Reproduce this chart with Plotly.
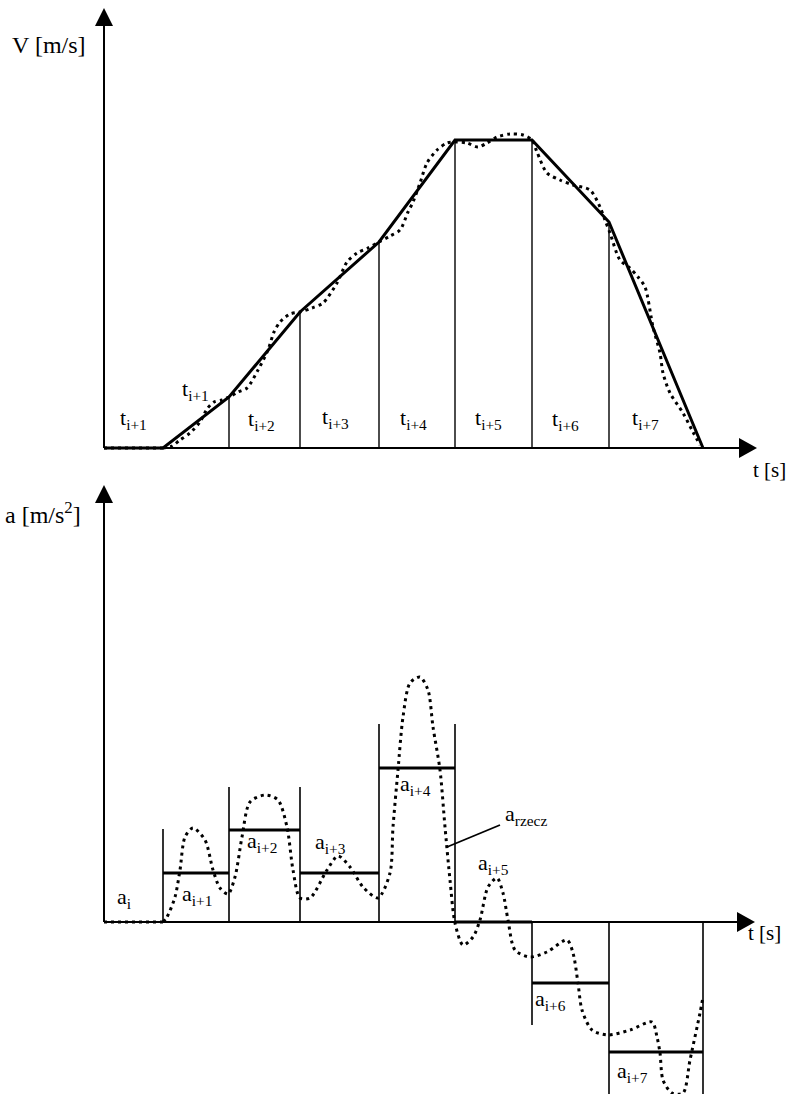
import plotly.graph_objects as go

# ---------------- data ----------------
# interval boundaries on the time axis (arbitrary units)
t_bounds = [0, 5.9, 12.5, 19.6, 27.5, 35.1, 42.8, 50.5, 59.9]
# piecewise-linear velocity at the boundaries
v_bounds = [0, 0, 5.1, 13.6, 20.6, 30.8, 30.8, 22.6, 0]
# real (measured) velocity - dotted curve
v_real_t = [5.9, 6.8, 7.6, 8.6, 9.6, 10.3, 11.0, 11.8, 12.5, 13.4, 14.3, 15.4, 16.4,
            17.0, 17.6, 18.6, 19.6, 20.8, 21.9, 23.3, 24.3, 25.3, 26.4, 27.5, 28.6,
            29.6, 30.4, 30.9, 31.6, 32.3, 33.3, 34.3, 35.1, 36.3, 37.4, 38.3, 39.3,
            40.6, 41.9, 42.8, 43.3, 44.3, 45.6, 46.9, 48.6, 49.6, 50.1, 50.6, 51.6,
            52.6, 53.4, 54.1, 54.9, 55.6, 55.9, 56.6, 57.9, 58.9, 59.6]
v_real = [0, 0.2, 0.8, 1.5, 2.6, 3.9, 4.6, 4.8, 5.1, 5.6, 6.0, 7.8, 9.8,
          11.6, 12.6, 13.4, 13.6, 14.0, 14.5, 16.5, 18.6, 19.5, 20.0, 20.6, 21.2,
          21.8, 23.6, 24.6, 26.5, 28.5, 29.8, 30.5, 30.6, 30.5, 30.1, 30.5, 31.1,
          31.4, 31.3, 30.8, 29.6, 27.5, 26.8, 26.3, 25.8, 24.1, 22.8, 21.5, 18.8,
          18.0, 17.1, 16.1, 12.1, 9.5, 7.5, 5.5, 3.5, 1.6, 0.3]

# mean acceleration in each interval
a_steps = [0, 4.9, 9.2, 4.9, 15.4, 0, -6.1, -13.0]
# extent of the interval guide lines in the acceleration chart
a_guides = [9.3, 13.5, 13.5, 19.8, 19.8, -10.3, -17.5, -17.5]
# real acceleration - dotted curve
a_real_t = [5.9, 6.3, 7.1, 7.6, 8.1, 8.9, 10.1, 10.9, 11.6, 12.4, 13.1, 13.8, 14.6,
            16.1, 17.4, 18.3, 18.9, 19.6, 20.6, 22.3, 23.4, 24.6, 25.9, 27.4, 28.6,
            28.9, 29.4, 29.9, 30.6, 31.6, 32.4, 32.9, 33.6, 34.1, 34.6, 35.1, 35.9,
            36.9, 37.6, 38.4, 39.3, 39.9, 40.4, 41.1, 42.6, 44.3, 46.3, 46.9, 47.4,
            47.8, 48.8, 50.4, 52.6, 54.8, 55.3, 55.6, 55.9, 56.8, 57.9, 58.6, 59.6, 59.9]
a_real = [0, 0.5, 2.5, 5.2, 8.5, 9.4, 8.2, 5.2, 3.4, 2.8, 4.5, 8.5, 12.0,
          12.7, 12.2, 9.5, 5.2, 2.4, 2.4, 5.2, 6.6, 5.5, 3.5, 2.4, 4.9,
          9.5, 15.2, 20.5, 23.9, 24.5, 23.2, 19.5, 15.2, 9.5, 4.2, -0.1, -2.3,
          -1.5, 0.2, 3.5, 4.4, 2.9, 0.2, -2.8, -3.5, -3.0, -1.8, -3.1, -6.1,
          -8.8, -10.8, -11.3, -10.8, -10.0, -11.5, -13.1, -15.8, -17.1, -17.1, -13.8, -9.1, -7.5]

t_labels = ["t<sub>i+1</sub>", "t<sub>i+1</sub>", "t<sub>i+2</sub>", "t<sub>i+3</sub>",
            "t<sub>i+4</sub>", "t<sub>i+5</sub>", "t<sub>i+6</sub>", "t<sub>i+7</sub>"]
a_labels = ["a<sub>i</sub>", "a<sub>i+1</sub>", "a<sub>i+2</sub>", "a<sub>i+3</sub>",
            "a<sub>i+4</sub>", "a<sub>i+5</sub>", "a<sub>i+6</sub>", "a<sub>i+7</sub>"]
v_title = "V [m/s]"
a_title = "a [m/s<sup>2</sup>]"
t_title = "t [s]"
a_real_label = "a<sub>rzecz</sub>"

# ---------------- figure ----------------
FONT = "Liberation Serif, Times New Roman, DejaVu Serif, serif"
BLACK = "#000000"
DOT = "3px,4px"

fig = go.Figure()

# --- top chart: velocity ---
gx, gy = [], []
for t, v in zip(t_bounds[2:-1], v_bounds[2:-1]):
    gx += [t, t, None]
    gy += [0, v, None]
fig.add_trace(go.Scatter(x=gx, y=gy, mode="lines", line=dict(color=BLACK, width=1.4),
                         xaxis="x", yaxis="y", hoverinfo="skip"))
fig.add_trace(go.Scatter(x=t_bounds[:2], y=v_bounds[:2], mode="lines",
                         line=dict(color=BLACK, width=3, dash=DOT),
                         xaxis="x", yaxis="y", hoverinfo="skip"))
fig.add_trace(go.Scatter(x=v_real_t, y=v_real, mode="lines",
                         line=dict(color=BLACK, width=3, dash=DOT, shape="spline", smoothing=0.8),
                         xaxis="x", yaxis="y", hoverinfo="skip"))
fig.add_trace(go.Scatter(x=t_bounds, y=v_bounds, mode="lines",
                         line=dict(color=BLACK, width=3),
                         xaxis="x", yaxis="y", hoverinfo="skip"))

# --- bottom chart: acceleration ---
gx, gy = [], []
for t, g in zip(t_bounds[1:], a_guides):
    gx += [t, t, None]
    gy += [0, g, None]
fig.add_trace(go.Scatter(x=gx, y=gy, mode="lines", line=dict(color=BLACK, width=1.6),
                         xaxis="x2", yaxis="y2", hoverinfo="skip"))
fig.add_trace(go.Scatter(x=t_bounds[:2], y=[0, 0], mode="lines",
                         line=dict(color=BLACK, width=3, dash=DOT),
                         xaxis="x2", yaxis="y2", hoverinfo="skip"))
fig.add_trace(go.Scatter(x=a_real_t, y=a_real, mode="lines",
                         line=dict(color=BLACK, width=3, dash=DOT, shape="spline", smoothing=0.8),
                         xaxis="x2", yaxis="y2", hoverinfo="skip"))
sx, sy = [], []
for i, a in enumerate(a_steps[1:], start=1):
    sx += [t_bounds[i], t_bounds[i + 1], None]
    sy += [a, a, None]
fig.add_trace(go.Scatter(x=sx, y=sy, mode="lines", line=dict(color=BLACK, width=3),
                         xaxis="x2", yaxis="y2", hoverinfo="skip"))

# --- axes with arrow heads ---
shapes = []
for xr, yr, ytip, xtip in [("x", "y", 44.0, 65.3), ("x2", "y2", 43.7, 65.1)]:
    shapes.append(dict(type="line", xref=xr, yref=yr, x0=0, x1=0, y0=0, y1=ytip - 1.7,
                       line=dict(color=BLACK, width=2)))
    shapes.append(dict(type="line", xref=xr, yref=yr, x0=0, x1=xtip - 1.7, y0=0, y1=0,
                       line=dict(color=BLACK, width=2)))
    shapes.append(dict(type="path", xref=xr, yref=yr, xsizemode="pixel", ysizemode="pixel",
                       xanchor=0, yanchor=ytip, path="M0,0 L-9,-18 L9,-18 Z",
                       fillcolor=BLACK, line=dict(color=BLACK, width=0)))
    shapes.append(dict(type="path", xref=xr, yref=yr, xsizemode="pixel", ysizemode="pixel",
                       xanchor=xtip, yanchor=0, path="M0,0 L-18,10 L-18,-10 Z",
                       fillcolor=BLACK, line=dict(color=BLACK, width=0)))
shapes.append(dict(type="line", xref="x2", yref="y2", x0=34.3, y0=7.5, x1=39.6, y1=9.7,
                   line=dict(color=BLACK, width=1.8)))

# --- text ---
ann = []
def txt(x, y, s, xr, yr, size=22):
    ann.append(dict(x=x, y=y, xref=xr, yref=yr, text=s, showarrow=False,
                    xanchor="left", yanchor="middle",
                    font=dict(family=FONT, size=size, color=BLACK)))

t_pos = [(1.4, 2.9), (7.6, 5.8), (14.2, 2.8), (21.6, 3.0), (29.4, 2.9), (36.9, 2.9),
         (44.6, 2.8), (52.6, 2.9)]
for (x, y), s in zip(t_pos, t_labels):
    txt(x, y, s, "x", "y")
txt(-9.4, 40.3, v_title, "x", "y", 24)
txt(64.7, -2.2, t_title, "x", "y", 21)

a_pos = [(1.1, 2.4), (7.6, 2.7), (14.1, 8.0), (20.9, 7.9), (29.4, 13.7), (37.2, 5.8),
         (42.9, -7.8), (51.1, -15.0)]
for (x, y), s in zip(a_pos, a_labels):
    txt(x, y, s, "x2", "y2")
txt(39.9, 10.7, a_real_label, "x2", "y2")
txt(-10.1, 40.9, a_title, "x2", "y2", 24)
txt(64.2, -1.1, t_title, "x2", "y2", 21)

split = 1 - 470 / 1094
ax_common = dict(visible=False, showgrid=False, zeroline=False, fixedrange=True)
fig.update_layout(
    width=787, height=1094,
    margin=dict(l=0, r=0, t=0, b=0),
    paper_bgcolor="white", plot_bgcolor="white",
    showlegend=False,
    xaxis=dict(domain=[0, 1], range=[-10.4, 68.3], anchor="y", **ax_common),
    yaxis=dict(domain=[split, 1], range=[-2.2, 44.8], anchor="x", **ax_common),
    xaxis2=dict(domain=[0, 1], range=[-10.4, 68.3], anchor="y2", **ax_common),
    yaxis2=dict(domain=[0, split], range=[-17.2, 45.2], anchor="x2", **ax_common),
    shapes=shapes,
    annotations=ann,
)

fig.write_html("out.html", config={"displayModeBar": False},
               post_script="document.body.style.margin='0px';document.body.style.overflow='hidden';")
